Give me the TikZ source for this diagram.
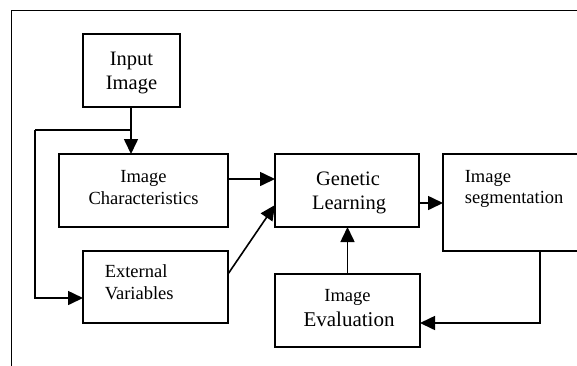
\documentclass[tikz,border=0pt]{standalone}
\usepackage{fontspec}
\setmainfont{Liberation Serif}
\usetikzlibrary{arrows.meta,calc}
\begin{document}
\begin{tikzpicture}[x=1pt,y=-1pt,
  line width=1.6pt,
  box/.style={draw,line width=1.6pt,inner sep=0pt,outer sep=0pt,anchor=north west},
  arr/.style={-{Triangle[length=15pt,width=14pt]},line width=1.6pt},
  txt/.style={inner sep=0pt,anchor=base},
  txtl/.style={inner sep=0pt,anchor=base west},
  big/.style={font=\fontsize{20.5}{24}\selectfont},
  mid/.style={font=\fontsize{18.5}{21}\selectfont}
]
\useasboundingbox (0,0) rectangle (577,365);
\begin{scope}
\clip (0,0) rectangle (577,365);
% outer frame (open on the right and bottom)
\draw (11.5,370) -- (11.5,10.5) -- (590,10.5);
% boxes
\node[box,minimum width=97pt,minimum height=73pt] (inp) at (83,34) {};
\node[box,minimum width=169pt,minimum height=73pt] (ich) at (59,154) {};
\node[box,minimum width=144pt,minimum height=73pt] (gen) at (275,154) {};
\node[box,minimum width=160pt,minimum height=97pt] (seg) at (443,154) {};
\node[box,minimum width=145pt,minimum height=72pt] (ext) at (83,251) {};
\node[box,minimum width=145pt,minimum height=73pt] (eva) at (275,274) {};
\end{scope}
% texts
\node[txt,big] (t1) at (131.5,65) {Input};
\node[txt,big] (t2) at (131.5,89) {Image};
\node[txt,mid] (t3) at (143.5,182) {Image};
\node[txt,mid] (t4) at (143.5,204) {Characteristics};
\node[txt,big] (t5) at (348,185) {Genetic};
\node[txt,big] (t6) at (349,209) {Learning};
\node[txtl,mid] (t7) at (464,182) {Image};
\node[txtl,mid] (t8) at (464,203) {segmentation};
\node[txtl,mid] (t9) at (104,277.5) {External};
\node[txtl,mid] (t10) at (104,299) {Variables};
\node[txt,mid] (t11) at (347.5,301.5) {Image};
\node[txt,font=\fontsize{21}{24}\selectfont] (t12) at (349,326) {Evaluation};
% connectors
\coordinate (j) at (131,130);
\coordinate (lp) at (35,130);
\draw[arr] ([xshift=-0.5pt]inp.south) -- ([xshift=-0.5pt]inp.south |- ich.north);
\draw (j) -- (lp);
\draw[arr] (lp) |- ([yshift=-11pt]ext.west);
\draw[arr] ([yshift=11.5pt]ich.east) -- ($(gen.west)+(0,-11.5)$);
\draw[arr] ([yshift=-23pt]ext.north east) -- ([yshift=-51pt]gen.north west);
\draw[arr] ([yshift=-12.5pt]gen.east) -- ([yshift=-12.5pt]seg.west |- gen.east);
\draw[arr] (eva.north) -- (eva.north |- gen.south);
\coordinate (sd) at ($(seg.south west)+(97,0)$);
\draw[arr] (sd) |- ([yshift=-12.5pt]eva.east);
\end{tikzpicture}
\end{document}
